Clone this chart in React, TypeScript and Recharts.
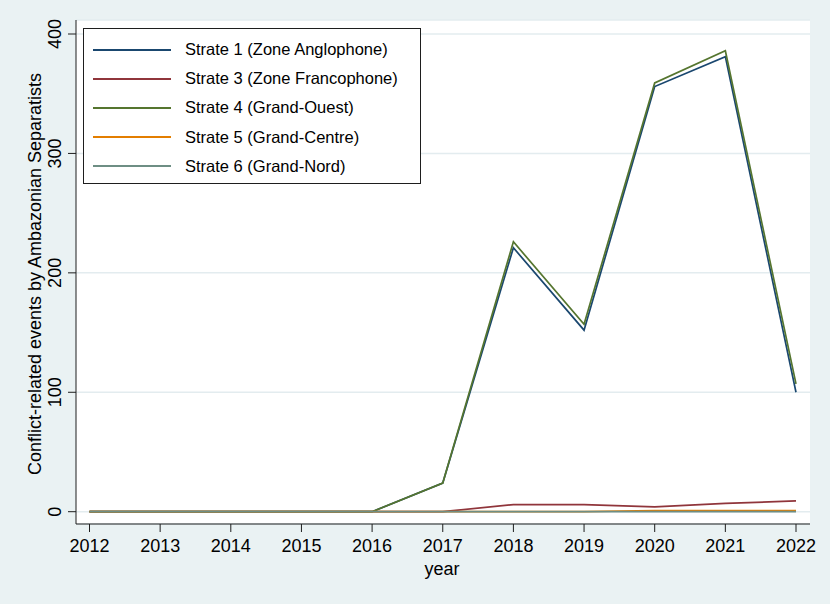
import React from "react";
import { LineChart, Line, XAxis, YAxis, CartesianGrid, Legend } from "recharts";

const years = [2012, 2013, 2014, 2015, 2016, 2017, 2018, 2019, 2020, 2021, 2022];
const strate1 = [0, 0, 0, 0, 0, 24, 221, 152, 356, 381, 100];
const strate3 = [0, 0, 0, 0, 0, 0, 6, 6, 4, 7, 9];
const strate4 = [0, 0, 0, 0, 0, 24, 226, 157, 359, 386, 107];
const strate5 = [0, 0, 0, 0, 0, 0, 0, 0, 1, 1, 1];
const strate6 = [0, 0, 0, 0, 0, 0, 0, 0, 0, 0, 0];
const yTicks = [0, 100, 200, 300, 400];

const seriesNames = [
  "Strate 1 (Zone Anglophone)",
  "Strate 3 (Zone Francophone)",
  "Strate 4 (Grand-Ouest)",
  "Strate 5 (Grand-Centre)",
  "Strate 6 (Grand-Nord)",
];
const seriesColors = ["#1a476f", "#90353b", "#55752f", "#e37e00", "#6e8e84"];
const seriesKeys = ["s1", "s3", "s4", "s5", "s6"];
const seriesValues = [strate1, strate3, strate4, strate5, strate6];

const data = years.map((year, i) => {
  const row: Record<string, number> = { year };
  seriesKeys.forEach((k, j) => {
    row[k] = seriesValues[j][i];
  });
  return row;
});

const FONT = "'Liberation Sans', Arial, Helvetica, sans-serif";
const AXIS_COLOR = "#1e1e1e";

const YTick = (props: any) => {
  const { x, y, payload } = props;
  const bx = x - 5;
  return (
    <text
      x={bx}
      y={y}
      transform={`rotate(-90, ${bx}, ${y})`}
      textAnchor="middle"
      fontSize={18}
      fontFamily={FONT}
      fill="#000"
    >
      {payload.value}
    </text>
  );
};

const XTick = (props: any) => {
  const { x, y, payload } = props;
  return (
    <text x={x} y={y + 18} textAnchor="middle" fontSize={18} fontFamily={FONT} fill="#000">
      {payload.value}
    </text>
  );
};

const YLabel = (props: any) => {
  const vb = props.viewBox || {};
  const cx = 41;
  const cy = vb.y + vb.height / 2 + 2;
  return (
    <text
      x={cx}
      y={cy}
      transform={`rotate(-90, ${cx}, ${cy})`}
      textAnchor="middle"
      fontSize={18}
      fontFamily={FONT}
      fill="#000"
    >
      Conflict-related events by Ambazonian Separatists
    </text>
  );
};

const XLabel = (props: any) => {
  const vb = props.viewBox || {};
  return (
    <text
      x={vb.x + vb.width / 2 - 1}
      y={vb.y + 51}
      textAnchor="middle"
      fontSize={18}
      fontFamily={FONT}
      fill="#000"
    >
      year
    </text>
  );
};

const LegendBox = (props: any) => {
  const payload = props.payload || [];
  return (
    <div
      style={{
        width: 336,
        height: 148,
        border: "1px solid #1e1e1e",
        background: "#fff",
        boxSizing: "content-box",
        paddingTop: 6,
        fontFamily: FONT,
        fontSize: 16.5,
      }}
    >
      {payload.map((p: any) => (
        <div key={p.value} style={{ display: "flex", alignItems: "center", height: 29.2 }}>
          <div style={{ marginLeft: 9, width: 78, height: 2, background: p.color }} />
          <span style={{ marginLeft: 14, color: "#000", whiteSpace: "nowrap" }}>{p.value}</span>
        </div>
      ))}
    </div>
  );
};

export default function App() {
  return (
    <div style={{ position: "absolute", left: 0, top: 0, width: 830, height: 604, background: "#eaf2f3" }}>
      <LineChart
        width={830}
        height={604}
        data={data}
        margin={{ top: 20, right: 20, left: 0, bottom: 30 }}
      >
        <CartesianGrid
          vertical={false}
          stroke="#e3ecef"
          strokeWidth={1.5}
          fill="#ffffff"
          fillOpacity={1}
        />
        <XAxis
          dataKey="year"
          type="number"
          domain={[2012, 2022]}
          ticks={years}
          interval={0}
          height={50}
          padding={{ left: 13.5, right: 14 }}
          tickSize={8}
          stroke={AXIS_COLOR}
          tickLine={{ stroke: AXIS_COLOR }}
          axisLine={{ stroke: AXIS_COLOR }}
          tick={<XTick />}
          label={<XLabel />}
        />
        <YAxis
          type="number"
          domain={[0, 400]}
          ticks={yTicks}
          width={76}
          padding={{ top: 14, bottom: 12.3 }}
          tickSize={8}
          stroke={AXIS_COLOR}
          tickLine={{ stroke: AXIS_COLOR }}
          axisLine={{ stroke: AXIS_COLOR }}
          tick={<YTick />}
          label={<YLabel />}
        />
        <Legend
          content={<LegendBox />}
          wrapperStyle={{ position: "absolute", left: 83, top: 28, width: 0, height: 0, overflow: "visible" }}
        />
        {seriesKeys.map((k, j) => (
          <Line
            key={k}
            type="linear"
            dataKey={k}
            name={seriesNames[j]}
            stroke={seriesColors[j]}
            strokeWidth={1.7}
            dot={false}
            activeDot={false}
            isAnimationActive={false}
          />
        ))}
      </LineChart>
    </div>
  );
}
